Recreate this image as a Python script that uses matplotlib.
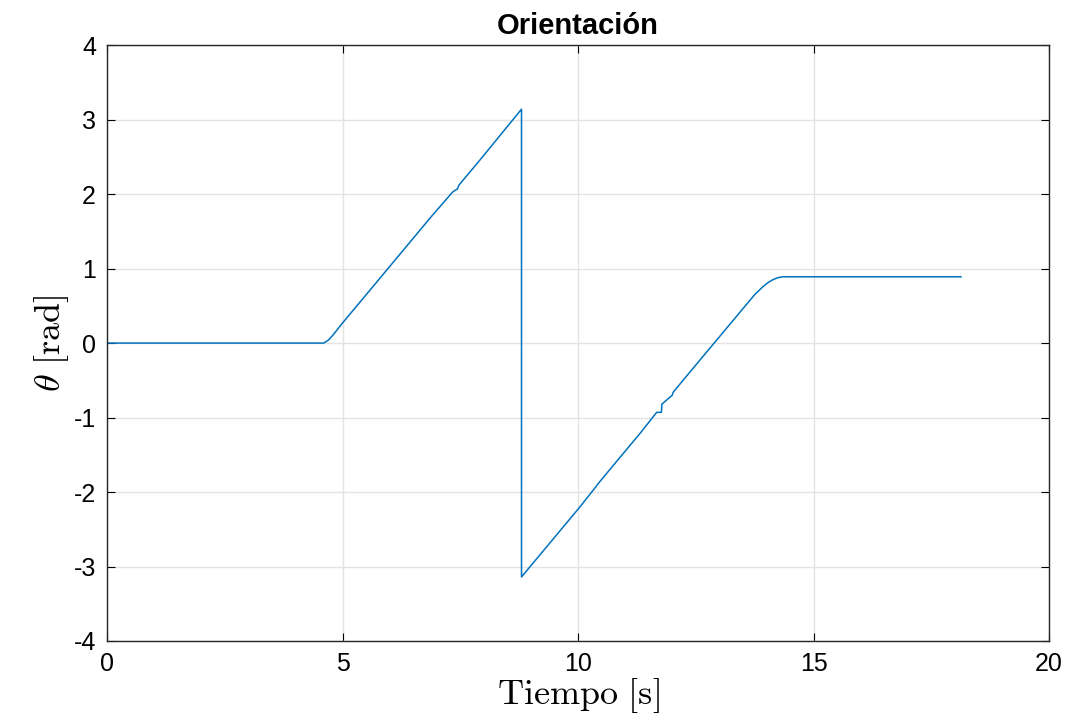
import matplotlib
matplotlib.use("Agg")
import matplotlib.pyplot as plt

plt.rcParams['font.family'] = ['Liberation Sans', 'DejaVu Sans']
plt.rcParams['mathtext.fontset'] = 'cm'
plt.rcParams['axes.unicode_minus'] = False

# tiempo [s] y orientacion [rad]
tiempo = [0, 4.60, 4.70, 4.80, 4.90, 5.00, 5.41, 6.86, 7.34, 7.44, 7.47, 7.92,
          8.80, 8.80, 10.04, 10.39, 10.41, 10.45, 10.87, 11.32, 11.67, 11.77,
          11.78, 12.00, 12.02, 12.44, 13.30, 13.75, 13.93, 14.05, 14.15, 14.25,
          14.36, 18.13]
theta = [0, 0, 0.04, 0.11, 0.19, 0.27, 0.58, 1.68, 2.03, 2.07, 2.12, 2.46,
         3.14, -3.14, -2.20, -1.92, -1.90, -1.87, -1.55, -1.21, -0.93, -0.93,
         -0.82, -0.70, -0.66, -0.34, 0.31, 0.65, 0.76, 0.82, 0.855, 0.88,
         0.89, 0.89]

xticks = [0, 5, 10, 15, 20]
yticks = [-4, -3, -2, -1, 0, 1, 2, 3, 4]

fig = plt.figure(figsize=(10.65, 7.17), dpi=100)
ax = fig.add_axes([0.1005, 0.106, 0.8845, 0.831])

ax.plot(tiempo, theta, color='#0072BD', linewidth=1.1)

ax.set_xlim(0, 20)
ax.set_ylim(-4, 4)
ax.set_xticks(xticks)
ax.set_yticks(yticks)
ax.grid(True, color='#e3e3e3', linewidth=1)
ax.set_axisbelow(True)
ax.tick_params(direction='in', length=6, labelsize=18, top=True, right=True,
               pad=8)
for s in ax.spines.values():
    s.set_linewidth(1)
    s.set_color('#262626')

ax.set_title('Orientación', fontsize=21, fontweight='bold', pad=8)
ax.set_xlabel(r'$\mathrm{Tiempo\ [s]}$', fontsize=26, labelpad=0)
ax.set_ylabel(r'$\theta\ \mathrm{[rad]}$', fontsize=26, labelpad=2)

fig.savefig('out.png', dpi=100)
